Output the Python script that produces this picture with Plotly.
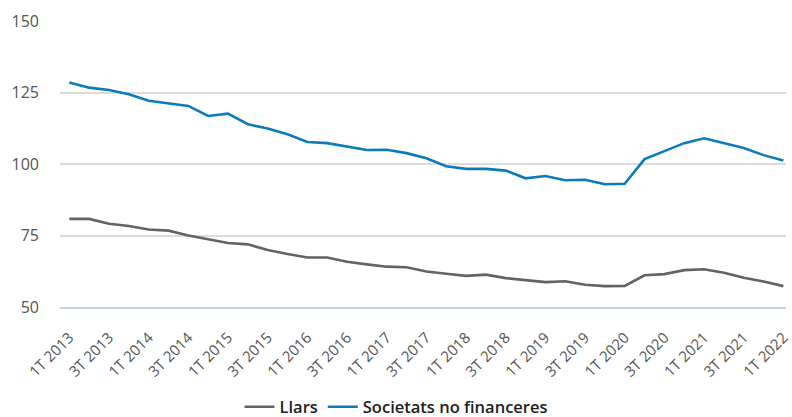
import plotly.graph_objects as go

quarters = []
for year in range(2013, 2023):
    for q in range(1, 5):
        quarters.append(f"{q}T {year}")
quarters = quarters[:37]  # 1T 2013 .. 1T 2022

llars = [80.8, 80.8, 79.1, 78.3, 77.1, 76.7, 75.0, 73.6, 72.4, 71.9,
         69.9, 68.5, 67.3, 67.3, 65.8, 64.9, 64.1, 63.9, 62.4, 61.6,
         60.9, 61.3, 60.1, 59.4, 58.7, 59.0, 57.8, 57.3, 57.4, 61.1,
         61.5, 62.9, 63.2, 62.0, 60.2, 58.9, 57.3]

societats = [128.5, 126.7, 125.9, 124.4, 122.1, 121.2, 120.3, 116.8, 117.6, 113.9,
             112.4, 110.4, 107.7, 107.3, 106.1, 104.9, 105.0, 103.8, 102.0, 99.2,
             98.3, 98.3, 97.7, 95.0, 95.8, 94.3, 94.5, 92.9, 93.1, 101.7,
             104.5, 107.3, 109.0, 107.2, 105.6, 103.1, 101.2]

tick_labels = quarters[::2]

fig = go.Figure()
fig.add_trace(go.Scatter(x=quarters, y=llars, mode="lines", name="Llars",
                         line=dict(color="#636363", width=2.6)))
fig.add_trace(go.Scatter(x=quarters, y=societats, mode="lines", name="Societats no financeres",
                         line=dict(color="#0a7bbd", width=2.6)))

fig.update_layout(
    width=792, height=417,
    margin=dict(l=60, r=0, t=21, b=110),
    paper_bgcolor="white", plot_bgcolor="white",
    font=dict(family="Open Sans, sans-serif", color="#555555", size=14),
    showlegend=True,
    legend=dict(orientation="h", xref="container", yref="container",
                x=0.5, xanchor="center", y=0.024, yanchor="middle",
                font=dict(size=16.5, color="#222222", weight=600),
                itemwidth=30, tracegroupgap=0),
)
fig.update_xaxes(type="category", range=[-0.47, 36.13],
                 tickmode="array", tickvals=tick_labels, ticktext=tick_labels,
                 tickangle=-45, showgrid=False, zeroline=False,
                 showline=True, linecolor="#c9d5e6", linewidth=2,
                 ticks="", ticklabelstandoff=14,
                 tickfont=dict(size=15, color="#555555"))
fig.update_yaxes(range=[50, 150], tickvals=[50, 75, 100, 125, 150],
                 showgrid=True, gridcolor="#dcdcdc", gridwidth=1.5,
                 zeroline=False, showline=False, ticks="",
                 ticklabelstandoff=20,
                 tickfont=dict(size=16, color="#555555"))

fig.write_html("out.html")
